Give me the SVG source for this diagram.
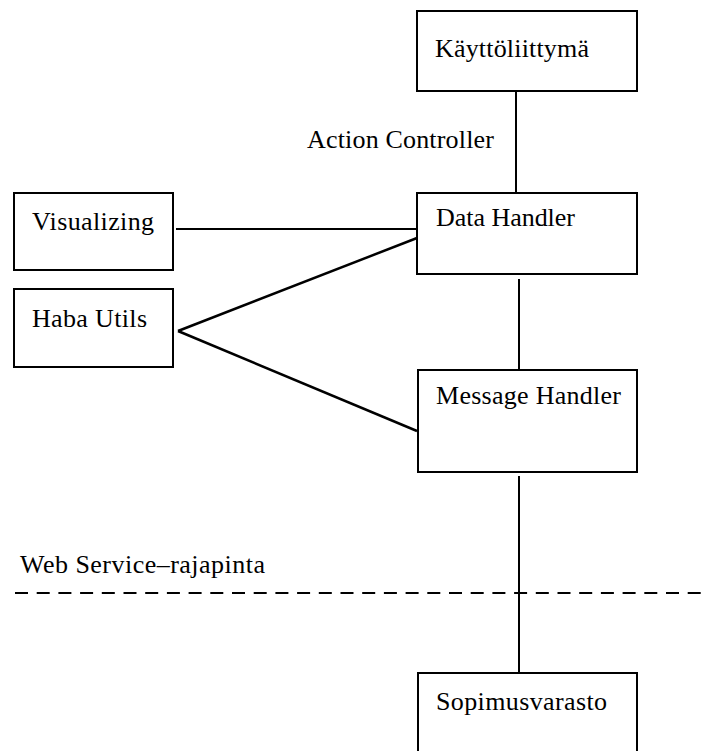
<svg xmlns="http://www.w3.org/2000/svg" width="703" height="751" viewBox="0 0 703 751">
<style>
.box{fill:#fff;stroke:#000;stroke-width:2}
.lbl{font-family:"Liberation Serif","Times New Roman",serif;font-size:26px;fill:#000}
.ln{stroke:#000;stroke-width:2;fill:none}
.dg{stroke:#000;stroke-width:2.5;fill:none}
.dash{stroke:#000;stroke-width:2;stroke-dasharray:13 8.7;fill:none}
</style>
<rect width="703" height="751" fill="#fff"/>
<g id="connectors">
<line class="ln" x1="516" y1="91" x2="516" y2="193"/>
<line class="ln" x1="176" y1="229" x2="417" y2="229"/>
<line class="dg" x1="178" y1="331" x2="417" y2="238"/>
<line class="dg" x1="178" y1="331" x2="417" y2="431"/>
<line class="ln" x1="519" y1="279" x2="519" y2="370"/>
<line class="ln" x1="519" y1="476" x2="519" y2="673"/>
</g>
<g id="boundary">
<line class="dash" x1="15" y1="593" x2="703" y2="593"/>
<text class="lbl" x="20" y="573" textLength="245" lengthAdjust="spacing">Web Service–rajapinta</text>
</g>
<text id="action-controller" class="lbl" x="307" y="148" textLength="187" lengthAdjust="spacing">Action Controller</text>
<g id="kayttoliittyma">
<rect class="box" x="417" y="11" width="220" height="80"/>
<text class="lbl" x="435" y="57" textLength="154" lengthAdjust="spacing">Käyttöliittymä</text>
</g>
<g id="data-handler">
<rect class="box" x="417" y="193" width="220" height="81"/>
<text class="lbl" x="436" y="226" textLength="139" lengthAdjust="spacing">Data Handler</text>
</g>
<g id="visualizing">
<rect class="box" x="14" y="193" width="159" height="77"/>
<text class="lbl" x="32" y="230" textLength="122" lengthAdjust="spacing">Visualizing</text>
</g>
<g id="haba-utils">
<rect class="box" x="14" y="289" width="159" height="78"/>
<text class="lbl" x="32" y="327" textLength="115" lengthAdjust="spacing">Haba Utils</text>
</g>
<g id="message-handler">
<rect class="box" x="418" y="370" width="219" height="102"/>
<text class="lbl" x="436" y="404" textLength="185" lengthAdjust="spacing">Message Handler</text>
</g>
<g id="sopimusvarasto">
<rect class="box" x="418" y="673" width="219" height="100"/>
<text class="lbl" x="436" y="710" textLength="171" lengthAdjust="spacing">Sopimusvarasto</text>
</g>
</svg>
